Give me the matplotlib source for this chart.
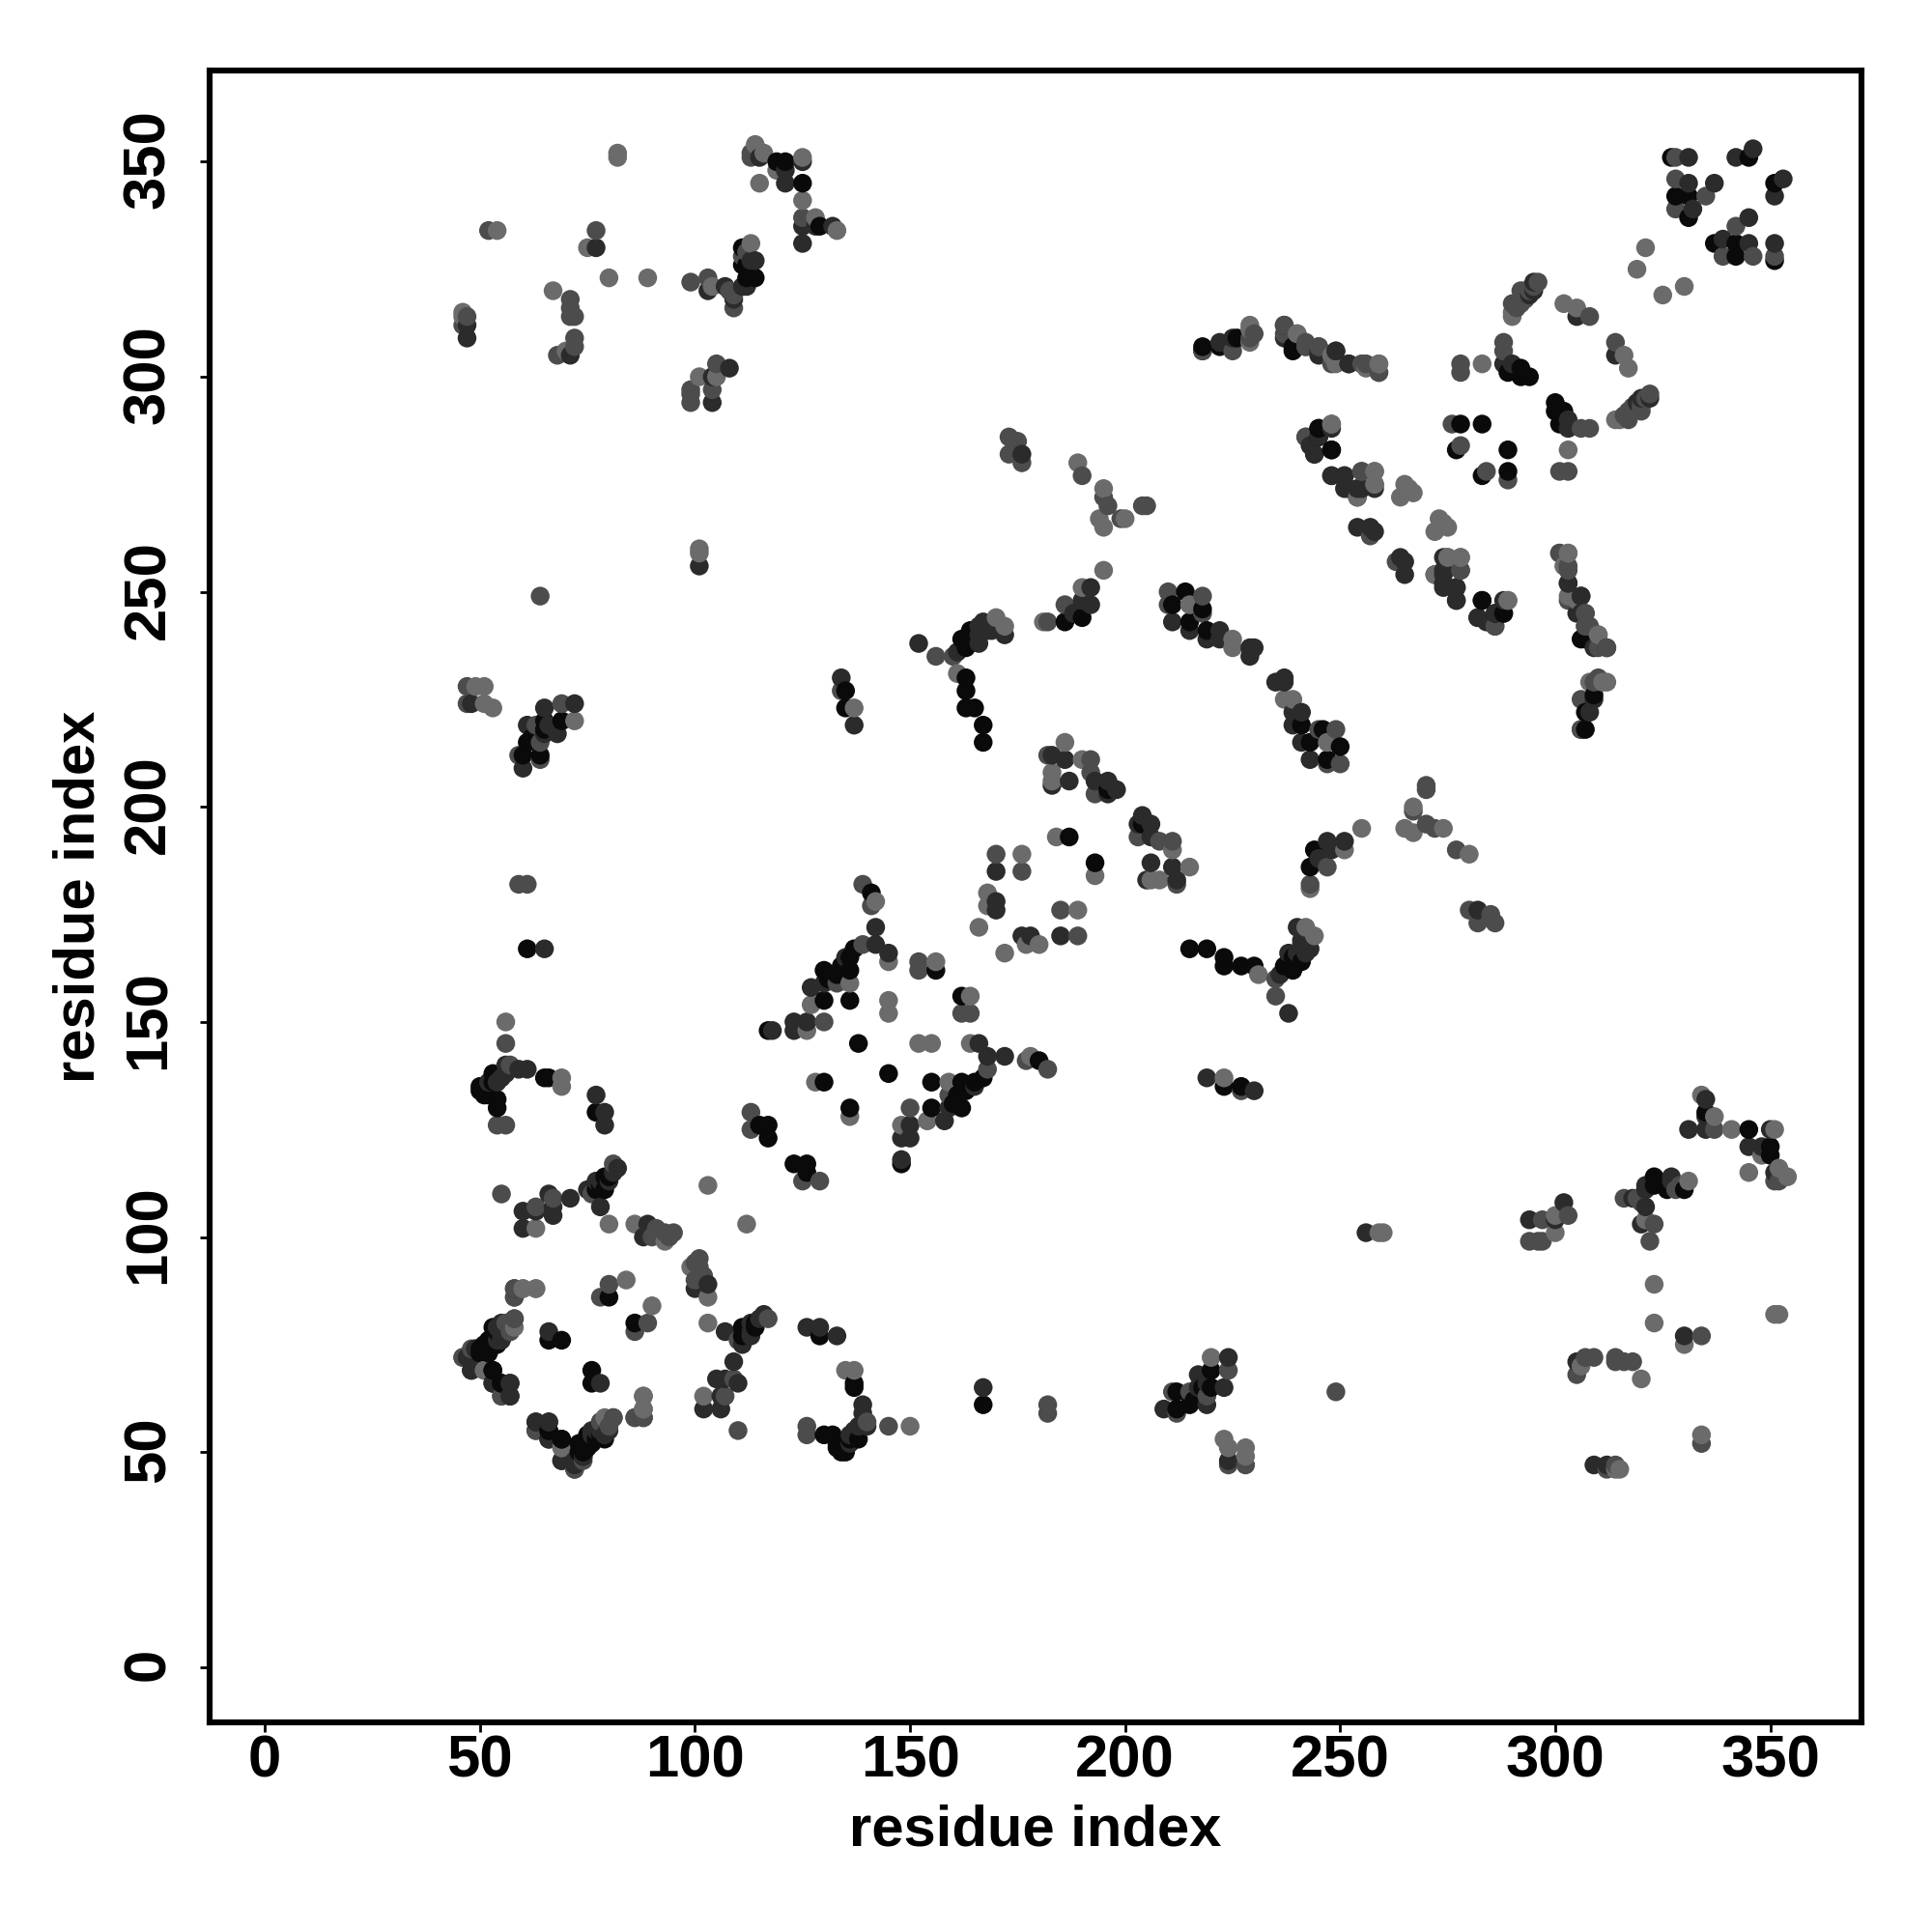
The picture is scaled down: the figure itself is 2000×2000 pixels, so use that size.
import numpy as np
import matplotlib
matplotlib.use("Agg")
import matplotlib.pyplot as plt
from matplotlib.transforms import ScaledTranslation

# contacts (i < j), mirrored below. grouped by how dark the dot is
black_pairs = [(111,330),(111,326),(112,323),(114,323),(119,350),(121,350),(125,345),(129,335),
    (65,220),(69,220),(61,215),(60,212),(64,212),(61,167),(135,227),(135,223),(141,180),(137,167),
    (136,165),(135,164),(136,162),(130,162),(136,155),(130,155),(117,148),(138,145),(130,136),
    (50,135),(51,135),(53,138),(52,133),(54,130),(54,132),(65,137),(66,137),(77,129),(79,114),
    (79,111),(77,111),(49,74),(51,75),(52,74),(53,79),(53,77),(53,69),(55,66),(66,76),(69,76),
    (75,54),(75,52),(73,52),(73,50),(69,53),(66,53),(66,55),(80,86),(115,126),(117,126),(117,123),
    (190,244),(186,243),(163,230),(163,227),(163,223),(165,223),(167,219),(167,215),(162,239),
    (164,241),(164,238),(187,193),(196,204),(214,250),(211,247),(218,246),(215,243),(219,241),
    (327,351),(345,351),(328,342),(331,342),(331,337),(289,301),(292,302),(292,300),(294,300),
    (278,289),(283,289),(277,283),(283,248),(286,245),(288,245),(306,239),(309,226),(307,222),
    (239,307),(245,288),(248,283),(156,162),(307,218),
    (50,134),(51,133),(52,135),(53,136),(78,112),(80,114),(50,74),(52,76),(54,78),(74,51),(76,53),
    (112,326),(113,324),(62,216),(65,218),(163,237),(165,239),(131,160),(133,161),(134,163)]
dark_pairs = [(77,330),(115,351),(121,348),(121,345),(125,350),(125,335),(128,335),(132,335),
    (125,331),(103,320),(107,321),(109,318),(114,327),(112,321),(111,321),(47,312),(47,309),(71,305),
    (104,300),(108,302),(104,294),(101,256),(65,223),(72,224),(61,219),(68,217),(65,217),(60,209),
    (48,224),(65,167),(134,230),(137,219),(142,172),(142,168),(145,166),(127,158),(130,159),(126,150),
    (123,150),(123,148),(118,148),(54,136),(56,140),(56,138),(59,139),(61,139),(77,133),(79,129),
    (79,126),(60,106),(60,102),(63,106),(66,110),(67,107),(67,105),(71,109),(75,111),(77,113),(78,107),
    (82,116),(80,113),(89,103),(88,100),(47,72),(48,69),(55,76),(57,78),(53,66),(57,66),(57,63),(66,78),
    (88,58),(77,55),(74,49),(72,48),(69,48),(66,57),(63,57),(79,54),(176,282),(192,251),(190,248),
    (192,247),(188,245),(152,238),(161,236),(166,238),(167,243),(166,242),(172,240),(169,241),(183,212),
    (186,211),(183,205),(187,206),(193,206),(196,206),(198,204),(196,203),(170,178),(170,176),(170,185),
    (222,241),(222,239),(219,239),(215,241),(211,243),(229,237),(230,237),(229,235),(218,306),(222,308),
    (225,309),(237,312),(245,306),(249,306),(252,303),(288,303),(290,303),(244,282),(243,284),(245,286),
    (248,277),(251,277),(251,274),(255,274),(254,265),(257,265),(258,264),(274,258),(274,254),(274,252),
    (277,251),(277,248),(288,248),(282,244),(295,322),(305,314),(331,351),(342,351),(346,353),(331,345),
    (337,345),(332,339),(303,252),(306,249),(305,245),(309,237),(307,242),
    (55,137),(81,115),(55,80),(78,55),(113,327),(66,219),(166,240),(168,241),(135,165),(294,319),(295,320),
    (76,54),(52,136),(78,113)]
mid_pairs = [(52,334),(77,334),(99,322),(103,323),(109,319),(109,316),(108,320),(112,329),(111,328),
    (113,352),(113,351),(125,337),(47,314),(46,312),(71,318),(71,316),(71,314),(72,314),(72,309),(72,307),
    (68,305),(105,303),(104,297),(99,297),(99,296),(99,294),(64,249),(47,228),(47,224),(69,224),(59,212),
    (64,215),(64,211),(63,219),(59,182),(61,182),(134,227),(139,182),(141,177),(139,168),(133,159),(130,150),
    (56,145),(57,140),(55,110),(63,107),(67,109),(76,110),(81,117),(90,100),(91,102),(93,101),(95,101),
    (94,100),(46,72),(48,74),(56,80),(58,81),(55,63),(63,55),(86,58),(81,58),(78,57),(72,46),(58,88),(58,86),
    (80,89),(78,86),(113,129),(113,125),(54,126),(56,126),(173,286),(175,285),(174,285),(173,282),(176,280),
    (170,189),(176,185),(190,277),(195,272),(196,270),(199,267),(204,270),(205,270),(186,247),(182,243),
    (156,235),(160,235),(182,212),(192,211),(192,208),(193,203),(210,250),(218,249),(210,247),(218,245),
    (225,306),(229,309),(230,310),(237,310),(242,307),(245,307),(248,303),(256,303),(259,301),(242,286),
    (255,278),(258,275),(254,272),(257,263),(278,255),(286,242),(276,289),(278,284),(278,303),(278,301),
    (288,308),(288,306),(294,320),(292,320),(290,317),(292,317),(308,314),(328,346),(335,342),(328,339),
    (301,259),(303,255),(307,245),(308,242),(310,240),(312,237),(306,218),(152,162),(152,164),(328,351),
    (291,316),(293,318),(296,322),(295,321),(293,320)]
light_pairs = [(82,352),(82,351),(54,334),(75,330),(80,323),(89,323),(67,320),(46,315),(46,314),(70,306),
    (101,300),(105,300),(104,321),(113,331),(114,354),(116,352),(115,345),(119,348),(125,351),(125,341),
    (128,337),(133,334),(101,260),(101,259),(49,228),(51,228),(51,224),(53,223),(72,220),(137,223),(142,178),
    (145,164),(136,159),(127,154),(145,155),(145,152),(126,148),(56,150),(128,136),(69,137),(69,135),(63,102),
    (80,103),(86,103),(93,99),(103,112),(60,88),(63,88),(84,90),(51,69),(58,79),(88,63),(88,60),(69,51),
    (189,280),(195,274),(194,267),(195,265),(200,267),(195,255),(190,251),(170,244),(172,242),(181,243),
    (161,231),(186,215),(183,208),(183,206),(190,211),(184,193),(166,172),(168,180),(168,177),(176,189),
    (215,247),(225,239),(225,237),(229,311),(240,310),(248,305),(259,303),(248,289),(258,278),(265,275),
    (267,273),(264,272),(266,274),(275,258),(278,258),(272,254),(289,248),(283,303),(302,317),(305,316),
    (290,315),(321,330),(319,325),(303,259),(302,256),(303,249),(308,229),(312,229),(156,164),(290,314)]

shade_groups = [black_pairs, dark_pairs, mid_pairs, light_pairs]
shade_levels = [0.04, 0.17, 0.30, 0.42]
tick_values = [0, 50, 100, 150, 200, 250, 300, 350]

i_vals, j_vals, greys = [], [], []
for pairs, level in zip(shade_groups, shade_levels):
    for a, b in pairs:
        i_vals += [a, b]
        j_vals += [b, a]
        greys += [level, level]
i_vals = np.array(i_vals)
j_vals = np.array(j_vals)
greys = np.array(greys)

# later residues sit on top, like the original loop order
order = np.lexsort((j_vals, i_vals))

plt.rcParams['font.family'] = ['Liberation Sans', 'DejaVu Sans']
plt.rcParams['font.weight'] = 'bold'

fig = plt.figure(figsize=(10, 10), dpi=200)
ax = fig.add_axes([217/2000, 1 - 1783/2000, 1710/2000, 1710/2000])
ax.scatter(i_vals[order], j_vals[order], c=greys[order], cmap='gray', vmin=0, vmax=1,
           s=49, linewidths=0)
ax.set_xlim(-12.85, 371.2)
ax.set_ylim(-12.85, 371.2)
ax.set_xticks(tick_values)
ax.set_yticks(tick_values)
ax.tick_params(length=3.6, width=1, labelsize=22.2)
ax.tick_params(axis='x', pad=1)
ax.tick_params(axis='y', pad=8.5)
for lab in ax.get_yticklabels():
    lab.set_rotation(90)
    lab.set_va('center')
    lab.set_transform(lab.get_transform() + ScaledTranslation(0, 2.5/200, fig.dpi_scale_trans))
for side in ax.spines.values():
    side.set_linewidth(2.2)

ax.set_xlabel("residue index", fontsize=21.5, fontweight='bold')
ax.set_ylabel("residue index", fontsize=21.5, fontweight='bold')
ax.xaxis.set_label_coords(0.5, -0.0495)
ax.yaxis.set_label_coords(-0.063, 0.5)

fig.savefig("out.png", dpi=200, facecolor='white')
